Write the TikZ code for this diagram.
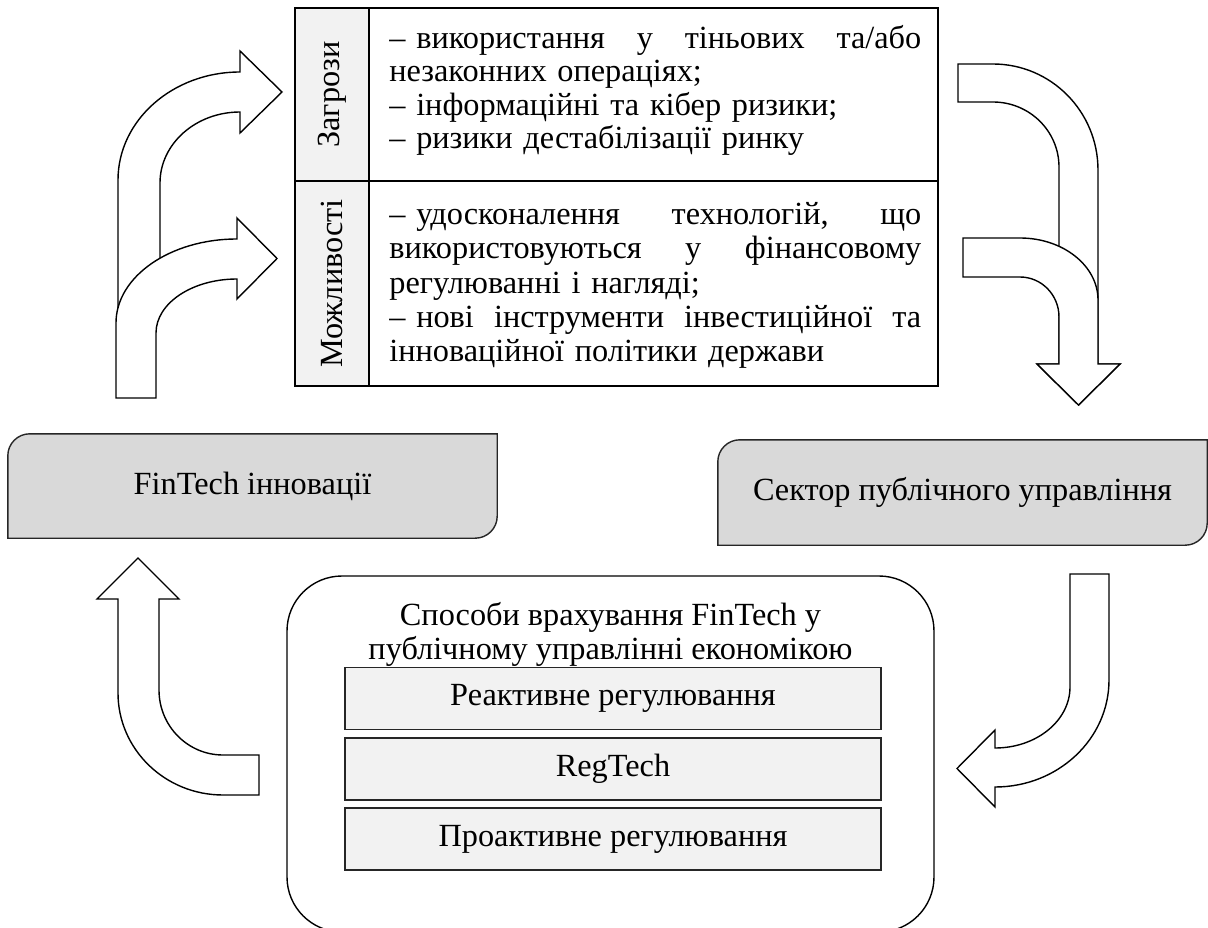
\documentclass[tikz,border=0pt]{standalone}
\usepackage{fontspec}
\usepackage{graphicx}
\setmainfont{Liberation Serif}
\usetikzlibrary{backgrounds}
\definecolor{panelgray}{HTML}{D9D9D9}
\definecolor{palegray}{HTML}{F2F2F2}
\definecolor{edgegray}{HTML}{262626}
\newcommand{\bodyfont}{\fontsize{32.3}{34}\selectfont}
\newcommand{\jline}[1]{\leavevmode\hbox to \linewidth{#1}}
\begin{document}
\begin{tikzpicture}[x=1pt,y=1pt,
  every node/.style={font=\bodyfont, inner sep=0pt},
  panel/.style={draw=edgegray, line width=1.4pt, fill=panelgray},
  cell/.style={draw=black, line width=1.7pt, minimum height=#1},
  labelcell/.style={cell=#1, fill=palegray, minimum width=74pt},
  textcell/.style={cell=#1, minimum width=569pt},
  blockarrow/.style={draw=black, line width=1.4pt, fill=white, line join=miter},
  methodbox/.style={draw=edgegray, line width=1.8pt, fill=palegray,
    minimum width=536pt, minimum height=62pt},
  groupbox/.style={draw=black, line width=1.4pt, fill=white, rounded corners=55pt},
  listtext/.style={text width=532pt, align=left, anchor=west},
]
\useasboundingbox (0,0) rectangle (1208,-928);

% --- threats / opportunities table ---
\node[labelcell=173pt] (thrL) at (332,-94.5) {\rotatebox{90}{Загрози}};
\node[textcell=173pt] (thrR) at (653.5,-94.5) {};
\node[labelcell=205pt] (oppL) at (332,-283.5) {\rotatebox{90}{Можливості}};
\node[textcell=205pt] (oppR) at (653.5,-283.5) {};
\node[listtext, font=\fontsize{32.3}{33.4}\selectfont] (thrT) at ([xshift=21pt,yshift=4pt]thrR.west) {%
  \jline{–\ використання\hfill у\hfill тіньових\hfill та/або}\\
  незаконних операціях;\\
  – інформаційні та кібер ризики;\\
  – ризики дестабілізації ринку};
\node[listtext, font=\fontsize{32.3}{34.3}\selectfont] (oppT) at ([xshift=21pt,yshift=-2pt]oppR.west) {%
  \jline{–\ удосконалення\hfill технологій,\hfill що}\\
  \jline{використовуються\hfill у\hfill фінансовому}\\
  регулюванні і нагляді;\\
  \jline{–\ нові\hfill інструменти\hfill інвестиційної\hfill та}\\
  інноваційної політики держави};

% --- side panels ---
\node[minimum width=489pt, minimum height=104pt] (fin) at (252.5,-486) {};
\node[minimum width=489pt, minimum height=105pt] (sector) at (962.5,-492.5) {};
\begin{scope}[on background layer]
  \path[panel] (fin.south west) -- ([yshift=-22pt]fin.north west)
    arc[start angle=180,end angle=90,radius=22pt] -- (fin.north east)
    -- ([yshift=22pt]fin.south east) arc[start angle=0,end angle=-90,radius=22pt] -- cycle;
  \path[panel] (sector.south west) -- ([yshift=-22pt]sector.north west)
    arc[start angle=180,end angle=90,radius=22pt] -- (sector.north east)
    -- ([yshift=22pt]sector.south east) arc[start angle=0,end angle=-90,radius=22pt] -- cycle;
\end{scope}
\node (finT) at (fin.center) {FinTech інновації};
\node (sectorT) at (sector.center) {Сектор публічного управління};

% --- ways of accounting for FinTech ---
\node[groupbox, minimum width=647pt, minimum height=356pt] (ways) at (610.5,-754) {};
\node[align=center] (waysT) at (610.5,-634) {Способи врахування FinTech у\\публічному управлінні економікою};
\node[methodbox] (m1) at (613,-698.5) {Реактивне регулювання};
\node[methodbox] (m2) at (613,-769) {RegTech};
\node[methodbox] (m3) at (613,-839) {Проактивне регулювання};

% --- block arrows: FinTech -> threats / opportunities ---
\path[blockarrow] (118,-312) -- (118,-180)
  arc[start angle=180,end angle=90,x radius=122pt,y radius=108pt]
  -- (240,-51) -- (282,-92) -- (240,-133) -- (240,-112)
  arc[start angle=90,end angle=180,x radius=80pt,y radius=71pt]
  -- (160,-312) -- cycle;
\path[blockarrow] (116,-398) -- (116,-323)
  arc[start angle=180,end angle=90,x radius=121pt,y radius=84pt]
  -- (237,-218) -- (277,-258.5) -- (237,-299) -- (237,-279)
  arc[start angle=90,end angle=180,x radius=81pt,y radius=54pt]
  -- (156,-398) -- cycle;

% --- block arrows: threats / opportunities -> public sector ---
\path[blockarrow] (958,-64) -- (993,-64)
  arc[start angle=90,end angle=0,x radius=105pt,y radius=106pt]
  -- (1098,-364) -- (1120,-364) -- (1078.5,-405) -- (1037,-364) -- (1059,-364)
  -- (1059,-167) arc[start angle=0,end angle=90,x radius=66pt,y radius=65pt]
  -- (958,-102) -- cycle;
\path[blockarrow] (963,-238) -- (1020,-238)
  arc[start angle=90,end angle=0,x radius=78pt,y radius=62pt]
  -- (1098,-364) -- (1120,-364) -- (1078.5,-405) -- (1037,-364) -- (1059,-364)
  -- (1059,-317) arc[start angle=0,end angle=90,x radius=39pt,y radius=40pt]
  -- (963,-277) -- cycle;

% --- block arrow: public sector -> ways ---
\path[blockarrow] (1070,-574) -- (1109,-574) -- (1109,-680)
  arc[start angle=0,end angle=-90,x radius=114pt,y radius=107pt]
  -- (995,-807) -- (957,-768.5) -- (995,-730) -- (995,-748)
  arc[start angle=-90,end angle=0,x radius=75pt,y radius=61pt]
  -- cycle;

% --- block arrow: ways -> FinTech ---
\path[blockarrow] (259,-795) -- (223,-795)
  arc[start angle=270,end angle=180,x radius=105pt,y radius=102pt]
  -- (118,-599) -- (97,-599) -- (138,-558) -- (179,-599) -- (159,-599)
  -- (159,-690) arc[start angle=180,end angle=270,x radius=64pt,y radius=65pt]
  -- (259,-755) -- cycle;
\end{tikzpicture}
\end{document}
